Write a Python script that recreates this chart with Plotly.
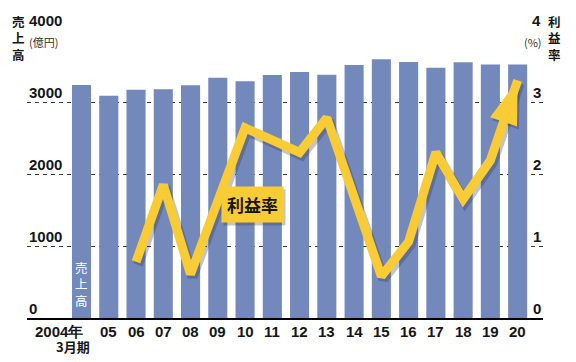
import plotly.graph_objects as go

# ---------------- data ----------------
years = ['2004', '05', '06', '07', '08', '09', '10', '11', '12',
         '13', '14', '15', '16', '17', '18', '19', '20']
tick_labels = ['2004年', '05', '06', '07', '08', '09', '10', '11', '12',
               '13', '14', '15', '16', '17', '18', '19', '20']
first_sub_label = '3月期'
sales = [3236, 3088, 3171, 3176, 3231, 3338, 3287, 3375, 3417,
         3380, 3514, 3593, 3556, 3476, 3551, 3522, 3522]          # 億円
margin = [None, None, 0.78, 1.85, 0.61, 1.60, 2.64, 2.47, 2.30,
          2.78, 1.70, 0.58, 1.06, 2.30, 1.65, 2.19, 3.30]          # %
left_ticks = [0, 1000, 2000, 3000, 4000]
left_tick_labels = ['0', '1000', '2000', '3000', '4000']
right_ticks = [0, 1, 2, 3, 4]
right_tick_labels = ['0', '1', '2', '3', '4']

# ---------------- style ----------------
W, H = 576, 362
ML, MR, MT, MB = 27, 33, 30, 44
BAR = '#7389bc'
YEL = '#F9CB35'
SHADOW = 'rgba(40,40,60,0.28)'
INK = '#161616'
NUM = 'Liberation Sans, Arial, sans-serif'
JP = 'Noto Sans CJK JP, sans-serif'
XR = [-2.0, 16.93]
px_x = (W - ML - MR) / (XR[1] - XR[0])
px_y = (H - MT - MB) / 4.0


def pxx(p):
    return (p - ML) / (W - ML - MR)


def pxy(p):
    return (H - MB - p) / (H - MT - MB)


n = len(years)
arrow_sizes = [0] * (n - 1) + [46]

fig = go.Figure()
fig.add_trace(go.Bar(x=years, y=sales, marker=dict(color=BAR, line=dict(width=0)),
                     xaxis='x', yaxis='y', hoverinfo='skip'))
# drop shadow of the line (same data on a slightly offset overlay axis pair)
fig.add_trace(go.Scatter(x=years, y=margin, mode='lines+markers', xaxis='x2', yaxis='y2',
                         line=dict(color=SHADOW, width=10),
                         marker=dict(symbol='arrow', size=arrow_sizes, angleref='previous',
                                     color=SHADOW, opacity=1, line=dict(width=0)),
                         connectgaps=False, hoverinfo='skip'))
fig.add_trace(go.Scatter(x=years, y=margin, mode='lines+markers', xaxis='x3', yaxis='y3',
                         line=dict(color=YEL, width=9),
                         marker=dict(symbol='arrow', size=arrow_sizes, angleref='previous',
                                     color=YEL, opacity=1, line=dict(width=0)),
                         connectgaps=False, hoverinfo='skip'))

numfont = dict(family=NUM, size=15, color=INK, weight='bold')
ann = []
# left / right tick labels (sitting above gridlines)
for v, t in zip(left_ticks, left_tick_labels):
    ann.append(dict(xref='paper', yref='y', x=0, y=v, xanchor='left', yanchor='bottom',
                    yshift=-1, text=t, showarrow=False, font=numfont))
for v, t in zip(right_ticks, right_tick_labels):
    ann.append(dict(xref='paper', yref='y3', x=1, y=v, xanchor='right', yanchor='bottom',
                    yshift=-1, text=t, showarrow=False, font=numfont))
# x labels
for i, t in enumerate(tick_labels):
    a = dict(xref='x', yref='paper', x=i, y=0, xanchor='center', yanchor='middle',
             yshift=-13.5, text=t, showarrow=False, font=numfont)
    if i == 0:
        a.update(xanchor='right', xshift=3)
    ann.append(a)
ann.append(dict(xref='x', yref='paper', x=0, y=0, xanchor='center', yanchor='middle',
                xshift=-8.5, yshift=-28.5, text=first_sub_label, showarrow=False,
                font=dict(family=JP, size=13, color=INK, weight='bold')))
# axis titles
ann.append(dict(xref='paper', yref='paper', x=pxx(18.5), y=pxy(38), xanchor='center',
                yanchor='middle', text='売<br>上<br>高', showarrow=False,
                font=dict(family=JP, size=12.5, color=INK, weight='bold')))
ann.append(dict(xref='paper', yref='paper', x=pxx(27), y=pxy(42), xanchor='left',
                yanchor='middle', text='(億円)', showarrow=False,
                font=dict(family=JP, size=11, color='#333')))
ann.append(dict(xref='paper', yref='paper', x=pxx(554.5), y=pxy(38), xanchor='center',
                yanchor='middle', text='利<br>益<br>率', showarrow=False,
                font=dict(family=JP, size=12.5, color=INK, weight='bold')))
ann.append(dict(xref='paper', yref='paper', x=pxx(544), y=pxy(42), xanchor='right',
                yanchor='middle', text='(%)', showarrow=False,
                font=dict(family=JP, size=11, color='#333')))
# label inside first bar
ann.append(dict(xref='x', yref='y', x=0, y=0, xanchor='center', yanchor='middle',
                yshift=34, text='売<br>上<br>高', showarrow=False,
                font=dict(family=JP, size=12.5, color='white')))
# series label box (shadow + box)
ann.append(dict(xref='x', yref='y3', x=6.27, y=1.53, xanchor='center', yanchor='middle',
                xshift=2, yshift=0, text='利益率', showarrow=False, bgcolor=SHADOW,
                borderpad=5, font=dict(family=JP, size=17, color='rgba(0,0,0,0)', weight='bold')))
ann.append(dict(xref='x', yref='y3', x=6.27, y=1.53, xanchor='center', yanchor='middle',
                yshift=3, text='利益率', showarrow=False, bgcolor=YEL,
                borderpad=5, font=dict(family=JP, size=17, color=INK, weight='bold')))

fig.update_layout(
    width=W, height=H,
    margin=dict(l=ML, r=MR, t=MT, b=MB),
    paper_bgcolor='white', plot_bgcolor='white',
    showlegend=False, bargap=0.3, hovermode=False,
    xaxis=dict(type='category', categoryarray=years, range=XR,
               showticklabels=False, ticks='',
               showline=True, linecolor='black', linewidth=2, showgrid=False,
               zeroline=False, fixedrange=True),
    xaxis2=dict(type='category', categoryarray=years, overlaying='x',
                range=[XR[0] - 2 / px_x, XR[1] - 2 / px_x], visible=False),
    xaxis3=dict(type='category', categoryarray=years, overlaying='x',
                range=XR, visible=False),
    yaxis=dict(range=[0, 4000], tickvals=left_ticks, showticklabels=False, ticks='',
               showgrid=True, gridcolor='#3a3a3a', gridwidth=1, griddash='4px,4px',
               zeroline=False, showline=False),
    yaxis2=dict(range=[3 / px_y, 4 + 3 / px_y], overlaying='y', visible=False),
    yaxis3=dict(range=[0, 4], overlaying='y', side='right', showgrid=False,
                showticklabels=False, zeroline=False, ticks=''),
    annotations=ann,
)

fig.write_html('out.html', config={'displayModeBar': False},
               post_script="document.body.style.margin='0';")
